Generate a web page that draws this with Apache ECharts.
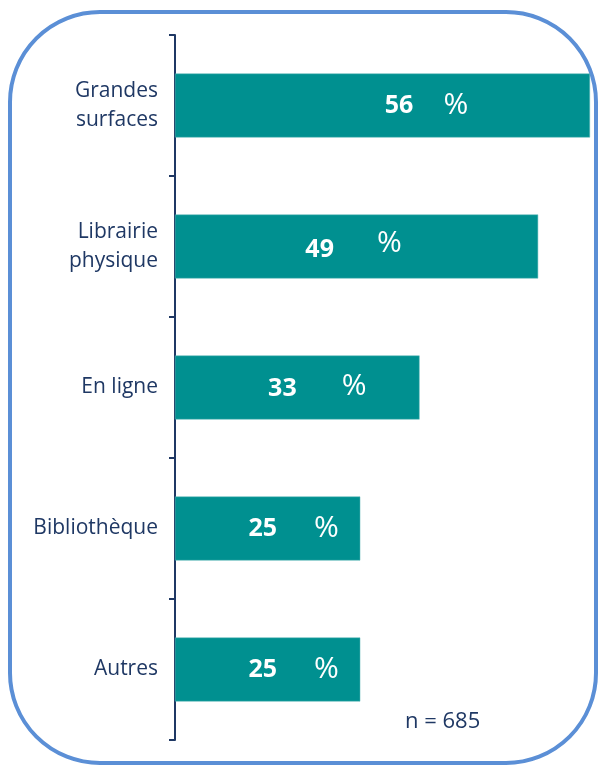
<!DOCTYPE html>
<html>
<head>
<meta charset="utf-8">
<script src="https://cdn.jsdelivr.net/npm/echarts@6/dist/echarts.min.js"></script>
<style>
  html, body { margin: 0; padding: 0; background: #fff; }
  #chart { width: 599px; height: 766px; }
</style>
</head>
<body>
<div id="chart"></div>
<script>
// data
const categories = ['Grandes\nsurfaces', 'Librairie\nphysique', 'En ligne', 'Bibliothèque', 'Autres']
const values = [56, 49, 33, 25, 25]
const sampleNote = 'n = 685'

// label placement tweaks (styling only, taken from the original layout)
const labelShift = [44, -3, 20, 26, 26]
const pctGap = [30, 43, 45, 37, 37]
const pctRise = [0, 6, 2, 0, 0]

const navy = '#1f3864'
const teal = '#009090'

const chart = echarts.init(document.getElementById('chart'))

chart.setOption({
  animation: false,
  grid: { left: 175, top: 35, width: 415, height: 705, containLabel: false },
  xAxis: { type: 'value', min: 0, max: 56, show: false },
  yAxis: {
    type: 'category', data: categories, inverse: true,
    axisLine: { show: true, lineStyle: { color: navy, width: 2 } },
    axisTick: { show: true, length: 6, lineStyle: { color: navy, width: 2 } },
    axisLabel: {
      color: navy, fontFamily: 'Open Sans', fontSize: 21, lineHeight: 29,
      margin: 17, align: 'right'
    }
  },
  series: [{
    type: 'bar', barWidth: 64,
    itemStyle: { color: teal, borderColor: '#5fb8b8', borderWidth: 0.5 },
    data: values.map((v, i) => ({
      value: v,
      label: {
        show: true, position: 'inside', offset: [labelShift[i], 0],
        formatter: p => '{n|' + p.value + '}{p|%}',
        rich: {
          n: { color: '#fff', fontFamily: 'Open Sans', fontWeight: 'bold', fontSize: 25, padding: [pctRise[i], 0, 0, 0] },
          p: { color: '#fff', fontFamily: 'Open Sans', fontSize: 30, padding: [0, 0, pctRise[i], pctGap[i]] }
        }
      }
    }))
  }],
  graphic: [
    {
      type: 'rect', silent: true,
      shape: { x: 10, y: 12, width: 586, height: 751, r: 90 },
      style: { fill: 'none', stroke: '#5b8fd6', lineWidth: 4 }
    },
    {
      type: 'text', left: 405, top: 711,
      style: { text: sampleNote, fill: navy, font: '22px "Open Sans"' }
    }
  ]
})
</script>
</body>
</html>
